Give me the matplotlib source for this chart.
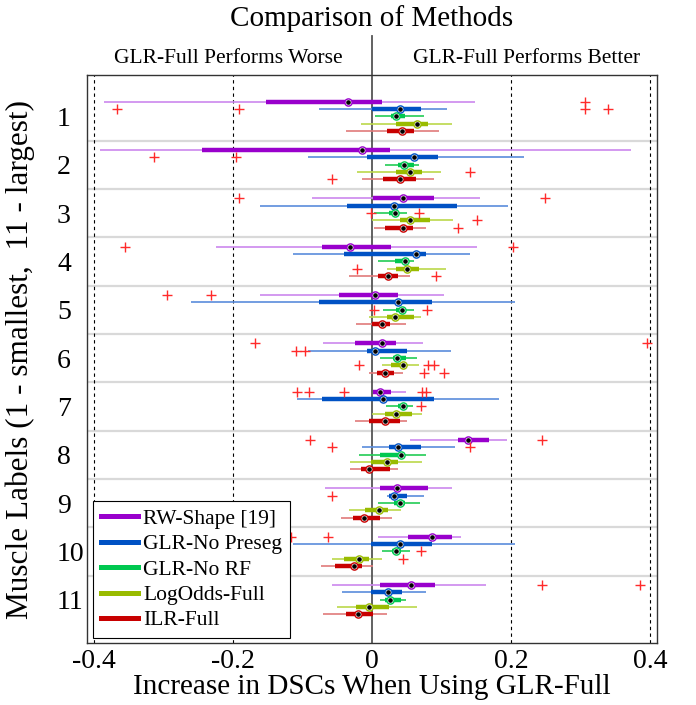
""" Comparison of methods: increase in DSCs when using GLR-Full, per muscle label
"""
import matplotlib
matplotlib.use("Agg")
import matplotlib.pyplot as plt
from matplotlib.lines import Line2D

plt.rcParams['font.family'] = ['Liberation Serif', 'DejaVu Serif']

methods = ["RW-Shape [19]", "GLR-No Preseg", "GLR-No RF", "LogOdds-Full", "ILR-Full"]
muscle_labels = [str(i) for i in range(1, 12)]

# whisker low, q1, median, q3, whisker high -- one list per method, 11 muscles
rw_low = [-0.385, -0.392, -0.086, -0.224, -0.161, -0.071, 0.002, 0.054, -0.068, 0.009, -0.057]
rw_q1 = [-0.153, -0.244, 0.002, -0.072, -0.047, -0.025, 0.002, 0.123, 0.011, 0.052, 0.012]
rw_med = [-0.034, -0.014, 0.045, -0.031, 0.004, 0.014, 0.011, 0.138, 0.036, 0.086, 0.056]
rw_q3 = [0.015, 0.026, 0.089, 0.027, 0.037, 0.034, 0.027, 0.168, 0.081, 0.115, 0.090]
rw_high = [0.148, 0.372, 0.155, 0.151, 0.103, 0.074, 0.049, 0.194, 0.115, 0.128, 0.164]
rw_out = [[0.306], [], [-0.192, 0.249], [-0.356, 0.203], [-0.295, -0.231],
          [-0.168, 0.395], [-0.108, -0.091, -0.040, 0.072, 0.077], [-0.089, 0.244],
          [], [-0.116, -0.064], [0.244, 0.386]]

np_low = [-0.076, -0.092, -0.161, -0.114, -0.260, -0.092, -0.108, -0.015, 0.022, -0.114, -0.043]
np_q1 = [0.000, -0.007, -0.036, -0.040, -0.076, -0.007, -0.072, 0.025, 0.024, -0.002, -0.002]
np_med = [0.040, 0.060, 0.032, 0.063, 0.038, 0.004, 0.016, 0.038, 0.032, 0.040, 0.023]
np_q3 = [0.071, 0.095, 0.122, 0.077, 0.086, 0.050, 0.089, 0.070, 0.050, 0.086, 0.043]
np_high = [0.108, 0.219, 0.196, 0.141, 0.206, 0.113, 0.182, 0.119, 0.075, 0.205, 0.077]
np_out = [[-0.367, -0.191, 0.307, 0.340], [-0.313, -0.195], [], [], [],
          [-0.110, -0.097], [], [-0.057, 0.141], [-0.057], [], []]

rf_low = [0.005, 0.018, 0.003, 0.008, 0.016, 0.012, 0.020, -0.019, 0.009, 0.015, 0.011]
rf_q1 = [0.027, 0.037, 0.024, 0.033, 0.034, 0.030, 0.037, 0.012, 0.031, 0.029, 0.019]
rf_med = [0.035, 0.046, 0.033, 0.047, 0.043, 0.036, 0.044, 0.041, 0.040, 0.035, 0.026]
rf_q3 = [0.048, 0.060, 0.037, 0.053, 0.048, 0.049, 0.050, 0.045, 0.048, 0.041, 0.042]
rf_high = [0.075, 0.068, 0.050, 0.060, 0.060, 0.064, 0.059, 0.078, 0.069, 0.055, 0.049]
rf_out = [[], [], [-0.002, 0.067], [], [0.003, 0.079], [], [0.071], [], [], [0.071], []]

lo_low = [-0.016, -0.022, 0.000, 0.021, -0.005, 0.015, 0.000, -0.032, -0.033, -0.057, -0.051]
lo_q1 = [0.035, 0.034, 0.040, 0.035, 0.021, 0.027, 0.019, -0.002, -0.010, -0.040, -0.023]
lo_med = [0.064, 0.055, 0.054, 0.050, 0.033, 0.044, 0.034, 0.021, 0.010, -0.018, -0.004]
lo_q3 = [0.081, 0.072, 0.083, 0.067, 0.061, 0.048, 0.057, 0.038, 0.023, -0.005, 0.024]
lo_high = [0.115, 0.099, 0.116, 0.107, 0.071, 0.067, 0.072, 0.072, 0.041, 0.015, 0.064]
lo_out = [[], [0.141], [0.151], [-0.022], [], [-0.018, 0.081, 0.089], [], [], [], [0.045], []]

ilr_low = [-0.038, -0.014, 0.003, -0.033, -0.023, -0.004, -0.024, -0.031, -0.045, -0.073, -0.071]
ilr_q1 = [0.022, 0.016, 0.019, 0.009, 0.000, 0.007, -0.004, -0.016, -0.027, -0.053, -0.037]
ilr_med = [0.043, 0.040, 0.045, 0.023, 0.015, 0.019, 0.018, -0.005, -0.012, -0.026, -0.020]
ilr_q3 = [0.061, 0.063, 0.059, 0.038, 0.026, 0.032, 0.040, 0.026, 0.011, -0.015, 0.001]
ilr_high = [0.097, 0.089, 0.077, 0.055, 0.049, 0.044, 0.050, 0.038, 0.029, 0.001, 0.021]
ilr_out = [[], [-0.057], [0.123], [0.092], [], [0.075, 0.104], [], [], [], [], []]

x_ticks = [-0.4, -0.2, 0, 0.2, 0.4]
x_tick_labels = ["-0.4", "-0.2", "0", "0.2", "0.4"]

box_colors = ['#9900CC', '#0052C4', '#00C850', '#99BB00', '#C80000']
whisker_colors = ['#CC88EE', '#5A8CDC', '#22CC55', '#BBD84A', '#E07A7A']

stats = [
    (rw_low, rw_q1, rw_med, rw_q3, rw_high, rw_out),
    (np_low, np_q1, np_med, np_q3, np_high, np_out),
    (rf_low, rf_q1, rf_med, rf_q3, rf_high, rf_out),
    (lo_low, lo_q1, lo_med, lo_q3, lo_high, lo_out),
    (ilr_low, ilr_q1, ilr_med, ilr_q3, ilr_high, ilr_out),
]

fig = plt.figure(figsize=(6.96, 7.05), dpi=100)
ax = fig.add_axes([0.125, 0.0875, 0.819, 0.8065])

row_step = 0.152
groups = list(range(1, len(muscle_labels) + 1))

# group separators and reference lines
for g in groups[:-1]:
    ax.axhline(g + 0.5, color='#D9D9D9', lw=1.6, zorder=0)
for xv in [-0.4, -0.2, 0.2, 0.4]:
    ax.axvline(xv, color='black', lw=0.8, ls=(0, (3, 3)), zorder=1)
ax.axvline(0, ymin=0, ymax=1.068, color='#555555', lw=1.3, clip_on=False, zorder=1)

for j, (lows, q1s, meds, q3s, highs, outs) in enumerate(stats):
    ys = [g + (j - 2) * row_step for g in groups]
    ax.hlines(ys, lows, highs, color=whisker_colors[j], lw=1.2, zorder=2)
    ax.hlines(ys, q1s, q3s, color=box_colors[j], lw=3.2, zorder=3,
              capstyle='butt')
    ax.plot(meds, ys, 'o', ms=5.2, mfc='white', mec=box_colors[j], mew=1.0, zorder=4)
    ax.plot(meds, ys, 'o', ms=2.3, color='black', zorder=5)
    out_x = [v for g_out in outs for v in g_out]
    out_y = [y for y, g_out in zip(ys, outs) for _ in g_out]
    ax.plot(out_x, out_y, '+', ms=7, mew=1.0, color='#FF2A2A', zorder=4)

ax.set_xlim(-0.41, 0.41)
ax.set_ylim(11.90, 0.139)
ax.set_xticks(x_ticks)
ax.set_xticklabels(x_tick_labels, fontsize=20)
ax.set_yticks(groups)
ax.set_yticklabels(muscle_labels, fontsize=20)
for lab in ax.get_yticklabels():
    lab.set_horizontalalignment('left')
ax.tick_params(axis='y', length=0, pad=21.6)
ax.tick_params(axis='x', length=0, pad=4)
for spine in ax.spines.values():
    spine.set_color('#333333')
    spine.set_linewidth(1.0)

ax.set_xlabel("Increase in DSCs When Using GLR-Full", fontsize=21, labelpad=0)
ax.set_ylabel("Muscle Labels (1 - smallest,  11 - largest)", fontsize=22.5)
ax.yaxis.set_label_coords(-0.091, 0.5)

ax.text(-0.207, 1.029, "GLR-Full Performs Worse", fontsize=15.5, ha='center',
        va='center', transform=ax.get_xaxis_transform())
ax.text(0.223, 1.029, "GLR-Full Performs Better", fontsize=15.5, ha='center',
        va='center', transform=ax.get_xaxis_transform())
fig.text(0.534, 0.974, "Comparison of Methods", fontsize=21, ha='center', va='center')

handles = [Line2D([], [], color=c, lw=3.6) for c in box_colors]
leg = ax.legend(handles, methods, loc='lower left', bbox_to_anchor=(0.0114, 0.0093),
                borderaxespad=0, fontsize=15.5, fancybox=False, framealpha=1,
                edgecolor='black', handlelength=1.7, handletextpad=0.25,
                labelspacing=0.25, borderpad=0.35)
leg.get_frame().set_linewidth(0.8)
leg.set_zorder(10)

fig.savefig("out.png", dpi=100)
